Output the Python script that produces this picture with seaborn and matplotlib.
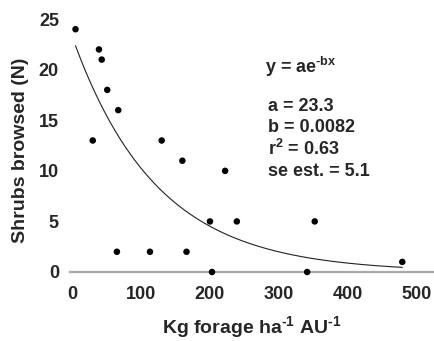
import numpy as np
import pandas as pd
import matplotlib
matplotlib.use("Agg")
import matplotlib.pyplot as plt
import seaborn as sns

# Data
forage = [5, 30, 39, 43, 51, 65, 67, 113, 130, 160, 166, 200, 203, 222, 239, 341, 352, 479]
shrubs = [24, 13, 22, 21, 18, 2, 16, 2, 13, 11, 2, 5, 0, 10, 5, 0, 5, 1]

# Fitted model parameters shown in the chart
a_param = 23.3
b_param = 0.0082
r2 = 0.63
se_est = 5.1
fit_range = [5, 479]

x_ticks = [0, 100, 200, 300, 400, 500]
y_ticks = [0, 5, 10, 15, 20, 25]

sns.set_theme(style="white")
plt.rcParams['font.family'] = ['Liberation Sans', 'DejaVu Sans']
plt.rcParams['font.weight'] = 'bold'
plt.rcParams['mathtext.fontset'] = 'custom'
plt.rcParams['mathtext.rm'] = 'Liberation Sans:bold'
plt.rcParams['mathtext.it'] = 'Liberation Sans:bold'
plt.rcParams['mathtext.bf'] = 'Liberation Sans:bold'
plt.rcParams['mathtext.default'] = 'regular'

df = pd.DataFrame({"forage": forage, "shrubs": shrubs})
xfit = np.linspace(fit_range[0], fit_range[1], 200)
fit_df = pd.DataFrame({"x": xfit, "y": a_param * np.exp(-b_param * xfit)})

fig = plt.figure(figsize=(4.34, 3.41), dpi=100)
ax = fig.add_axes([70/434, 69/341, 364/434, 263/341])

sns.lineplot(data=fit_df, x="x", y="y", ax=ax, color="#222222", linewidth=0.8)
sns.scatterplot(data=df, x="forage", y="shrubs", ax=ax, color="black",
                s=22, edgecolor="none", zorder=5, clip_on=False)

ax.set_xlim(-3, 525)
ax.set_ylim(0, 26)
ax.set_xticks(x_ticks)
ax.set_yticks(y_ticks)

for side in ["top", "right", "left"]:
    ax.spines[side].set_visible(False)
ax.spines["bottom"].set_color("#aaaaaa")
ax.spines["bottom"].set_linewidth(1.6)

ax.tick_params(axis="x", direction="in", length=3, width=0.6, color="#888888",
               pad=10, labelsize=13)
ax.tick_params(axis="y", direction="out", length=2, width=0.6, color="#888888",
               pad=6, labelsize=13)
for lab in ax.get_xticklabels() + ax.get_yticklabels():
    lab.set_fontweight("bold")

ax.set_xlabel(r"Kg forage ha$^{\text{-1}}$ AU$^{\text{-1}}$", fontsize=14, fontweight="bold")
ax.set_ylabel("Shrubs browsed (N)", fontsize=14, fontweight="bold")
ax.xaxis.set_label_coords(0.5, -0.16)
ax.yaxis.set_label_coords(-0.113, 0.464)

fig.text(265/434, 1 - 73/341, r"y = ae$^{\text{-bx}}$", fontsize=13, fontweight="bold",
         va="baseline", ha="left")
lines = [f"a = {a_param}", f"b = {b_param}", r"r$^{2}$" + f" = {r2}", f"se est. = {se_est}"]
ys = [107, 128, 149, 171]
for t, yp in zip(lines, ys):
    fig.text(268/434, 1 - yp/341, t, fontsize=13, fontweight="bold", va="center", ha="left")

fig.savefig("out.png", dpi=100)
